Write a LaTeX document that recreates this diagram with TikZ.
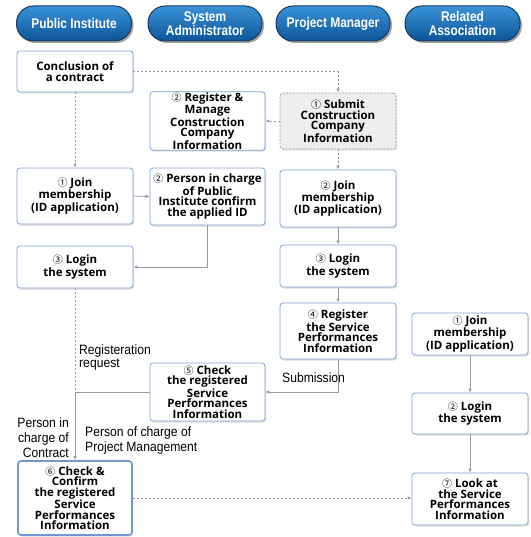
\documentclass[tikz,border=0pt]{standalone}
\usepackage{fontspec}
\usepackage{tikz}
\usetikzlibrary{arrows.meta}
\usetikzlibrary{shadows}
\setmainfont{Open Sans}[BoldFont = * Bold]
\newfontfamily\circfont{Noto Sans CJK SC}
\newfontfamily\hdrfont[FakeStretch=0.85]{Liberation Sans}
\newfontfamily\labfont[FakeStretch=0.9]{Liberation Sans}
\newcommand{\cnum}[1]{{\circfont\mdseries\fontsize{10}{10}\selectfont #1}}

\definecolor{hdrtop}{HTML}{3A92D8}
\definecolor{hdrbot}{HTML}{0B5597}
\definecolor{hdrline}{HTML}{1B3A5E}
\definecolor{boxline}{HTML}{7FA4D4}
\definecolor{flowgray}{HTML}{9A9A9A}
\definecolor{subfill}{HTML}{EDEDED}

\tikzset{
    hdr/.style = {rounded corners = 17pt, draw = hdrline, line width = 1pt,
        top color = hdrtop, bottom color = hdrbot, text = white,
        minimum width = 115pt, minimum height = 35pt, align = center,
        font = \hdrfont\bfseries\fontsize{14}{14.5}\selectfont,
        drop shadow = {shadow xshift = 2pt, shadow yshift = -2pt, opacity = 0.35, fill = black}},
    stepbox/.style = {rounded corners = 3pt, draw = boxline, line width = 0.8pt, fill = white,
        minimum width = 116pt, align = center, inner sep = 1pt,
        font = \bfseries\fontsize{11.5}{10.5}\selectfont,
        drop shadow = {shadow xshift = 1pt, shadow yshift = -1.5pt, opacity = 0.25, fill = gray}},
    flow/.style = {draw = flowgray, line width = 0.8pt, -{Latex[length = 4pt, width = 3.5pt]}},
    dflow/.style = {flow, dash pattern = on 2pt off 2pt},
    lab/.style = {font = \labfont\fontsize{13.5}{15}\selectfont, inner sep = 0pt}
}

\begin{document}
\begin{tikzpicture}[x = 1pt, y = -1pt]
    \useasboundingbox (0,0) rectangle (530,537);

    % headers
    \node[hdr] (hpi) at (74,23.5) {Public Institute};
    \node[hdr, minimum width = 114pt] (hsa) at (205,23.5) {System\\Administrator};
    \node[hdr, minimum width = 114pt] (hpm) at (333,23.5) {Project Manager};
    \node[hdr] (hra) at (462.5,23.5) {Related\\Association};

    % public institute
    \node[stepbox, minimum height = 41pt] (contract) at (75,71.5) {Conclusion of\\a contract};
    \node[stepbox, minimum height = 56pt] (joinpi) at (75,196) {\cnum{①} Join\\membership\\(ID application)};
    \node[stepbox, minimum height = 42pt] (loginpi) at (75,267) {\cnum{③} Login\\the system};
    \node[stepbox, minimum height = 74pt, minimum width = 114pt, line width = 1.6pt, draw = boxline!90!blue] (check6) at (75,498)
        {\cnum{⑥} Check \&\\Confirm\\the registered\\Service\\Performances\\Information};

    % system administrator
    \node[stepbox, minimum height = 56pt, minimum width = 115pt] (reg) at (207.5,121)
        {\cnum{②} Register \&\\Manage\\Construction\\Company\\Information};
    \node[stepbox, minimum height = 57pt, minimum width = 115pt] (confirm) at (207.5,196.5)
        {\cnum{②} Person in charge\\of Public\\Institute confirm\\the applied ID};
    \node[stepbox, minimum height = 58pt, minimum width = 115pt] (check5) at (207.5,392)
        {\cnum{⑤} Check\\the registered\\Service\\Performances\\Information};

    % project manager
    \node[stepbox, minimum height = 56pt, fill = subfill, draw = flowgray, dash pattern = on 2pt off 1.5pt] (submit) at (338,121)
        {\cnum{①} Submit\\Construction\\Company\\Information};
    \node[stepbox, minimum height = 57pt] (joinpm) at (338,198.5) {\cnum{②} Join\\membership\\(ID application)};
    \node[stepbox, minimum height = 42pt] (loginpm) at (338,266) {\cnum{③} Login\\the system};
    \node[stepbox, minimum height = 56pt] (regsp) at (338,331)
        {\cnum{④} Register\\the Service\\Performances\\Information};

    % related association
    \node[stepbox, minimum height = 42pt] (joinra) at (470,334) {\cnum{①} Join\\membership\\(ID application)};
    \node[stepbox, minimum height = 41pt] (loginra) at (470,413.5) {\cnum{②} Login\\the system};
    \node[stepbox, minimum height = 52pt] (look) at (470,499)
        {\cnum{⑦} Look at\\the Service\\Performances\\Information};

    % labels
    \node[lab, anchor = north west, align = left] (reqlab) at (79,345) {Registeration\\[-2pt]request};
    \node[lab, anchor = west] (sublab) at (282,378) {Submission};
    \node[lab, anchor = east, align = right] (ctrlab) at (69,438) {Person in\\charge of\\Contract};
    \node[lab, anchor = west, align = left] (pmlab) at (85,441) {Person of charge of\\Project Management};

    % connectors
    \draw[dflow] (contract.east) -| (submit.north);
    \draw[dflow] (contract.south) -- (joinpi.north);
    \draw[dflow] (submit.west) -- (reg.east);
    \draw[dflow] (submit.south) -- (joinpm.north);
    \draw[flow] (joinpi.east) -- (confirm.west);
    \draw[flow] (confirm.south) |- (loginpi.east);
    \draw[flow] (joinpm) -- (loginpm);
    \draw[flow] (loginpm) -- (regsp);
    \draw[flow] (regsp.south) |- (check5.east);
    \coordinate (turn) at (check5.west -| loginpi.south);
    \draw[draw = flowgray, line width = 0.8pt, dash pattern = on 2pt off 2pt] (loginpi.south) -- (turn);
    \draw[flow] (check5.west) -- (turn) -- (check6.north);
    \draw[dflow] (check6.east) -- (check6.east -| look.west);
    \draw[flow] (joinra) -- (loginra);
    \draw[flow] (loginra) -- (look);

\end{tikzpicture}
\end{document}
